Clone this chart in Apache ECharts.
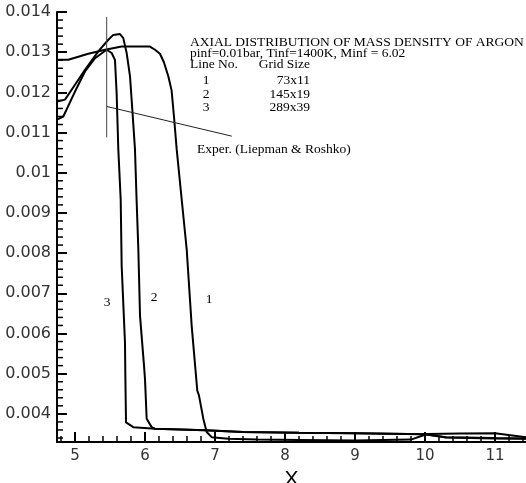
<!DOCTYPE html>
<html>
<head>
<meta charset="utf-8">
<script src="https://cdn.jsdelivr.net/npm/echarts@6/dist/echarts.min.js"></script>
<style>
html,body{margin:0;padding:0;background:#fff;}
#chart{width:526px;height:483px;}
</style>
</head>
<body>
<div id="chart"></div>
<script>
// ---- data ----
// Line 1 : grid 73x11
const x1 = [4.743, 4.905, 5.19, 5.43, 5.667, 6.0, 6.07, 6.143, 6.214, 6.27, 6.333, 6.38, 6.414, 6.453, 6.524, 6.596, 6.667, 6.747, 6.771, 6.833, 6.881, 6.953, 7.19, 7.6, 8.2, 9.0, 9.8, 10.03, 10.5, 11.0, 11.443];
const y1 = [0.01281, 0.01281, 0.01296, 0.01306, 0.01314, 0.01314, 0.01314, 0.01306, 0.01296, 0.01275, 0.01240, 0.01205, 0.0114, 0.01058, 0.00934, 0.00809, 0.00619, 0.00458, 0.00446, 0.00388, 0.00355, 0.00342, 0.00338, 0.00336, 0.00335, 0.00334, 0.00336, 0.00350, 0.00351, 0.00352, 0.00342];
// Line 2 : grid 145x19
const x2 = [4.743, 4.857, 5.0, 5.143, 5.333, 5.476, 5.547, 5.643, 5.69, 5.738, 5.786, 5.819, 5.857, 5.88, 5.905, 5.929, 5.986, 6.0, 6.024, 6.095, 6.143, 6.5, 6.86, 7.4, 8.2, 9.0, 10.0, 10.3, 11.0, 11.443];
const y2 = [0.01177, 0.01182, 0.01219, 0.01256, 0.01302, 0.01331, 0.01343, 0.01345, 0.01335, 0.01298, 0.0124, 0.01157, 0.01058, 0.00933, 0.00809, 0.00644, 0.0052, 0.00487, 0.00388, 0.00367, 0.00363, 0.00361, 0.00359, 0.00355, 0.00353, 0.00352, 0.00349, 0.00342, 0.0034, 0.00339];
// Line 3 : grid 289x39
const x3 = [4.743, 4.833, 5.0, 5.143, 5.286, 5.452, 5.524, 5.571, 5.595, 5.619, 5.653, 5.667, 5.714, 5.72, 5.729, 5.833, 6.143, 6.857, 7.4, 8.2, 9.0, 10.0, 10.3, 11.0, 11.443];
const y3 = [0.01132, 0.0114, 0.01202, 0.01252, 0.01285, 0.01306, 0.01298, 0.01281, 0.01198, 0.01058, 0.00933, 0.00768, 0.00578, 0.00487, 0.00379, 0.00367, 0.00363, 0.00359, 0.00355, 0.00353, 0.00352, 0.00349, 0.00341, 0.00339, 0.00338];
// Experiment (Liepman & Roshko)
const expX = [5.453, 5.453];
const expY = [0.01088, 0.01388];
// leader line to the experiment label
const leadX = [5.453, 7.24];
const leadY = [0.01165, 0.01091];

// legend table text
const titleLines = ["AXIAL DISTRIBUTION OF MASS DENSITY OF ARGON", "pinf=0.01bar, Tinf=1400K, Minf = 6.02"];
const lineNos = ["1", "2", "3"];
const gridSizes = ["73x11", "145x19", "289x39"];
const expLabel = "Exper. (Liepman & Roshko)";
const curveLabels = ["3", "2", "1"];

// axis settings
const X_MIN = 4.743, X_MAX = 11.443;
const Y_MIN = 0.0033, Y_MAX = 0.014;

// minor tick positions
const xMinor = [];
for (let k = 24; k <= 57; k++) if (k % 5) xMinor.push(k / 5);
const yMinor = [];
for (let k = 17; k <= 70; k++) if (k % 5) yMinor.push(k * 0.0002);

const zip = (a, b) => a.map((v, i) => [v, b[i]]);

const chart = echarts.init(document.getElementById('chart'), null, {renderer: 'canvas'});

const serif = '13.5px "Liberation Serif"';
const txt = (text, x, y, align) => ({
  type: 'text', x: x, y: y, silent: true,
  style: {text: text, font: serif, fill: '#000', align: align || 'left', verticalAlign: 'middle',
          textAlign: align || 'left', textVerticalAlign: 'middle'}
});

const graphics = [
  txt(titleLines[0], 190, 42),
  txt(titleLines[1], 190, 53),
  txt("Line No.", 190, 64),
  txt("Grid Size", 310, 64, 'right'),
  txt(lineNos[0], 206, 80, 'center'), txt(gridSizes[0], 310, 80, 'right'),
  txt(lineNos[1], 206, 94, 'center'), txt(gridSizes[1], 310, 94, 'right'),
  txt(lineNos[2], 206, 107, 'center'), txt(gridSizes[2], 310, 107, 'right'),
  txt(expLabel, 197, 149),
  txt(curveLabels[0], 107, 302, 'center'),
  txt(curveLabels[1], 154, 297, 'center'),
  txt(curveLabels[2], 209, 299, 'center')
];

const lineSeries = (d, w, c) => ({
  type: 'line', data: d, symbol: 'none', smooth: false, silent: true,
  lineStyle: {color: c || '#000', width: w}, animation: false
});

chart.setOption({
  animation: false,
  backgroundColor: '#fff',
  grid: {left: 57, right: 0, top: 12, bottom: 41, containLabel: false, outerBoundsMode: 'none'},
  xAxis: {
    type: 'value', min: X_MIN, max: X_MAX, splitNumber: 7,
    name: 'X', nameLocation: 'middle', nameGap: 22,
    nameTextStyle: {fontFamily: 'Liberation Sans', fontSize: 21, color: '#000'},
    axisLine: {show: true, onZero: false, lineStyle: {color: '#000', width: 2}},
    axisTick: {show: true, inside: true, length: 10, lineStyle: {color: '#000', width: 2}},
    axisLabel: {showMinLabel: false, showMaxLabel: false, margin: 7,
      fontFamily: 'DejaVu Sans', fontSize: 15, color: '#333'},
    splitLine: {show: false}
  },
  yAxis: {
    type: 'value', min: Y_MIN, max: Y_MAX, splitNumber: 10,
    axisLine: {show: true, onZero: false, lineStyle: {color: '#000', width: 2}},
    axisTick: {show: true, inside: true, length: 10, lineStyle: {color: '#000', width: 2}},
    axisLabel: {showMinLabel: false, margin: 6,
      fontFamily: 'DejaVu Sans', fontSize: 16, color: '#333',
      formatter: v => String(parseFloat(v.toFixed(6)))},
    splitLine: {show: false}
  },
  graphic: graphics,
  series: [
    lineSeries(zip(x1, y1), 2),
    lineSeries(zip(x2, y2), 2),
    lineSeries(zip(x3, y3), 2),
    lineSeries(zip(expX, expY), 1, '#444'),
    lineSeries(zip(leadX, leadY), 1, '#222'),
    {
      type: 'custom', silent: true, clip: false,
      data: xMinor.map(v => [v, Y_MIN]),
      renderItem: (params, api) => {
        const p = api.coord([api.value(0), api.value(1)]);
        return {type: 'line', shape: {x1: p[0], y1: p[1], x2: p[0], y2: p[1] - 6},
                style: {stroke: '#000', lineWidth: 1.5}};
      }
    },
    {
      type: 'custom', silent: true, clip: false,
      data: yMinor.map(v => [X_MIN, v]),
      renderItem: (params, api) => {
        const p = api.coord([api.value(0), api.value(1)]);
        return {type: 'line', shape: {x1: p[0], y1: p[1], x2: p[0] + 6, y2: p[1]},
                style: {stroke: '#000', lineWidth: 1.5}};
      }
    }
  ]
});
</script>
</body>
</html>
